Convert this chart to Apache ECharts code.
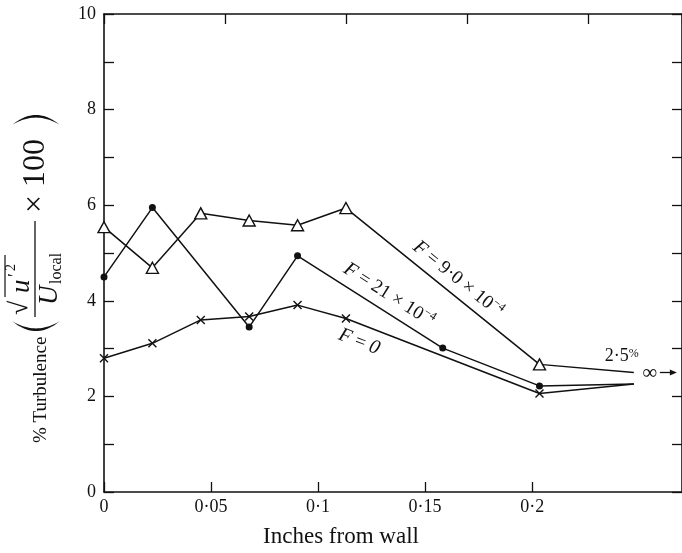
<!DOCTYPE html>
<html>
<head>
<meta charset="utf-8">
<script src="https://cdn.jsdelivr.net/npm/echarts@6/dist/echarts.min.js"></script>
<style>
html, body { margin: 0; padding: 0; background: #fff; }
#chart { width: 682px; height: 553px; }
</style>
</head>
<body>
<div id="chart"></div>
<script>
// Labelled ticks of the bottom scale
const xTicks = [0, 0.05, 0.1, 0.15, 0.2];
const yLabelled = [0, 2, 4, 6, 8, 10];

// Measuring stations (inches from wall), plotted on the top scale
// F = 0  (crosses)
const xF0 = [0, 0.02, 0.04, 0.06, 0.08, 0.1, 0.18];
const yF0 = [2.8, 3.11, 3.6, 3.67, 3.91, 3.63, 2.06];
// F = 21 x 10^-4  (filled dots)
const xF21 = [0, 0.02, 0.06, 0.08, 0.14, 0.18];
const yF21 = [4.5, 5.95, 3.45, 4.94, 3.01, 2.22];
// F = 9.0 x 10^-4  (open triangles)
const xF9 = [0, 0.02, 0.04, 0.06, 0.08, 0.1, 0.18];
const yF9 = [5.54, 4.69, 5.83, 5.68, 5.58, 5.94, 2.67];
// Free-stream ends (towards infinity)
const xFree = 0.219;
const yFreeF0 = 2.26;
const yFreeF21 = 2.26;
const yFreeF9 = 2.5;

const SERIF = '"Liberation Serif", "DejaVu Serif", serif';
const INK = '#111';

function buildData(xs, ys, endY) {
  const d = xs.map((x, i) => [x, ys[i]]);
  d.push({ value: [xFree, endY], symbol: 'none' });
  return d;
}

function fmtX(v) {
  if (v === 0) return '0';
  return (+v.toFixed(3)).toString().replace('.', '\u00b7');
}

const axisCommon = {
  type: 'value',
  axisLine: { show: true, onZero: false, lineStyle: { color: INK, width: 1.6 } },
  axisTick: { show: true, inside: true, length: 10, lineStyle: { color: INK, width: 1.3 } },
  splitLine: { show: false }
};

const chart = echarts.init(document.getElementById('chart'), null, { renderer: 'canvas' });

chart.setOption({
  animation: false,
  backgroundColor: '#fff',
  grid: { left: 104, top: 14, width: 580.5, height: 478, containLabel: false },
  xAxis: [
    Object.assign({}, axisCommon, {
      position: 'bottom', min: 0, max: 0.27, interval: 0.05,
      axisTick: Object.assign({}, axisCommon.axisTick, { customValues: xTicks }),
      axisLabel: {
        color: INK, fontFamily: SERIF, fontSize: 18, margin: 6,
        customValues: xTicks,
        formatter: v => fmtX(v)
      }
    }),
    Object.assign({}, axisCommon, {
      position: 'top', min: 0, max: 0.2389, interval: 0.05,
      axisLabel: { show: false }
    })
  ],
  yAxis: [
    Object.assign({}, axisCommon, {
      position: 'left', min: 0, max: 10, interval: 1,
      axisLabel: {
        color: INK, fontFamily: SERIF, fontSize: 18, margin: 8,
        formatter: v => (yLabelled.indexOf(v) >= 0 ? String(v) : '')
      }
    }),
    Object.assign({}, axisCommon, {
      position: 'right', min: 0, max: 10, interval: 1,
      axisLabel: { show: false }
    })
  ],
  series: [
    {
      name: 'F = 0', type: 'line', xAxisIndex: 1, yAxisIndex: 0,
      data: buildData(xF0, yF0, yFreeF0),
      symbol: 'path://M0,0L10,10M10,0L0,10', symbolSize: 8,
      lineStyle: { color: INK, width: 1.5 },
      itemStyle: { color: INK, borderColor: INK, borderWidth: 1.4 },
      z: 3
    },
    {
      name: 'F = 21e-4', type: 'line', xAxisIndex: 1, yAxisIndex: 0,
      data: buildData(xF21, yF21, yFreeF21),
      symbol: 'circle', symbolSize: 7,
      lineStyle: { color: INK, width: 1.5 },
      itemStyle: { color: INK, borderColor: INK, borderWidth: 0 },
      z: 4
    },
    {
      name: 'F = 9.0e-4', type: 'line', xAxisIndex: 1, yAxisIndex: 0,
      data: buildData(xF9, yF9, yFreeF9),
      symbol: 'triangle', symbolSize: [12, 11],
      lineStyle: { color: INK, width: 1.5 },
      itemStyle: { color: '#fff', borderColor: INK, borderWidth: 1.4 },
      z: 5
    }
  ]
});

// ---- annotations placed relative to the plotted lines ----
const px = p => chart.convertToPixel({ xAxisIndex: 1, yAxisIndex: 0 }, p);

function labelOnSegment(a, b, t, offset) {
  const p1 = px(a), p2 = px(b);
  const dx = p2[0] - p1[0], dy = p2[1] - p1[1];
  const len = Math.hypot(dx, dy);
  const nx = dy / len, ny = -dx / len;
  return {
    x: p1[0] + t * dx + nx * offset,
    y: p1[1] + t * dy + ny * offset,
    rotation: -Math.atan2(dy, dx)
  };
}

const richF = {
  f: { fontFamily: SERIF, fontStyle: 'italic', fontSize: 20, fill: INK },
  n: { fontFamily: SERIF, fontSize: 19, fill: INK },
  s: { fontFamily: SERIF, fontSize: 12, fill: INK, padding: [0, 0, 11, 0] }
};

function lineLabel(pos, text) {
  return {
    type: 'text', x: pos.x, y: pos.y, rotation: pos.rotation, z: 20,
    style: { text: text, align: 'center', verticalAlign: 'middle', rich: richF }
  };
}

const l9 = labelOnSegment([xF9[5], yF9[5]], [xF9[6], yF9[6]], 0.53, 15);
const l21 = labelOnSegment([xF21[3], yF21[3]], [xF21[4], yF21[4]], 0.57, 16);
const l0 = labelOnSegment([xF0[5], yF0[5]], [xF0[6], yF0[6]], 0.1, -17);

const endPt = px([xFree, yFreeF9]);

// ---- y-axis title, written along the axis (reads bottom to top) ----
const txt = (x, y, s, size, extra) => ({
  type: 'text', x: x, y: y,
  style: Object.assign({ text: s, fontFamily: SERIF, fontSize: size, fill: INK, align: 'left', verticalAlign: 'middle' }, extra || {})
});

// large bracket as a thin crescent; dir = -1 opens right "(", +1 opens left ")"
function bracket(x0, yc, half, bulge, thick, dir) {
  const pts = [];
  const n = 24;
  for (let i = 0; i <= n; i++) {
    const s = -1 + 2 * i / n;
    pts.push([x0 + dir * bulge * (1 - s * s), yc + half * s]);
  }
  for (let i = n; i >= 0; i--) {
    const s = -1 + 2 * i / n;
    pts.push([x0 + dir * (bulge - thick) * (1 - s * s), yc + half * s]);
  }
  return { type: 'polygon', shape: { points: pts }, style: { fill: INK } };
}

const yTitle = {
  type: 'group', x: 41, y: 443, rotation: Math.PI / 2,
  children: [
    txt(0, 0, '% Turbulence', 19),
    bracket(122, -5, 24, 10, 2.6, -1),
    // numerator: square root of u'^2
    txt(128, -21, '\u221a', 26),
    { type: 'line', shape: { x1: 146, y1: -36, x2: 188, y2: -36 }, style: { stroke: INK, lineWidth: 1.2 } },
    txt(150, -19, 'u', 27, { fontStyle: 'italic' }),
    txt(166, -25, '\u2032', 18),
    txt(172, -30, '2', 14),
    // fraction bar
    { type: 'line', shape: { x1: 126, y1: -6, x2: 222, y2: -6 }, style: { stroke: INK, lineWidth: 1.3 } },
    // denominator: U_local
    txt(138, 9, 'U', 27, { fontStyle: 'italic' }),
    txt(159, 16, 'local', 16),
    txt(230, -5, '\u00d7 100', 32),
    bracket(318, -5, 24, 10, 2.6, 1)
  ]
};

chart.setOption({
  graphic: [
    yTitle,
    {
      type: 'text', x: 341, y: 537, z: 20,
      style: { text: 'Inches from wall', fontFamily: SERIF, fontSize: 23, fill: INK, align: 'center', verticalAlign: 'middle' }
    },
    lineLabel(l9, '{f|F}{n| = 9\u00b70 \u00d7 10}{s|\u22124}'),
    lineLabel(l21, '{f|F}{n| = 21 \u00d7 10}{s|\u22124}'),
    lineLabel(l0, '{f|F}{n| = }{f|0}'),
    {
      type: 'text', x: endPt[0] - 12, y: endPt[1] - 16, z: 20,
      style: {
        text: '{n|2\u00b75}{p|%}', align: 'center', verticalAlign: 'middle',
        rich: {
          n: { fontFamily: SERIF, fontSize: 18, fill: INK },
          p: { fontFamily: SERIF, fontSize: 12, fill: INK, padding: [0, 0, 6, 0] }
        }
      }
    },
    {
      type: 'text', x: endPt[0] + 16, y: endPt[1] + 1, z: 20,
      style: { text: '\u221e', fontFamily: SERIF, fontSize: 21, fill: INK, align: 'center', verticalAlign: 'middle' }
    },
    {
      type: 'line', z: 20,
      shape: { x1: endPt[0] + 26, y1: endPt[1], x2: endPt[0] + 38, y2: endPt[1] },
      style: { stroke: INK, lineWidth: 1.3 }
    },
    {
      type: 'polygon', z: 20,
      shape: { points: [[endPt[0] + 43, endPt[1]], [endPt[0] + 36, endPt[1] - 3], [endPt[0] + 36, endPt[1] + 3]] },
      style: { fill: INK }
    }
  ]
});
</script>
</body>
</html>
